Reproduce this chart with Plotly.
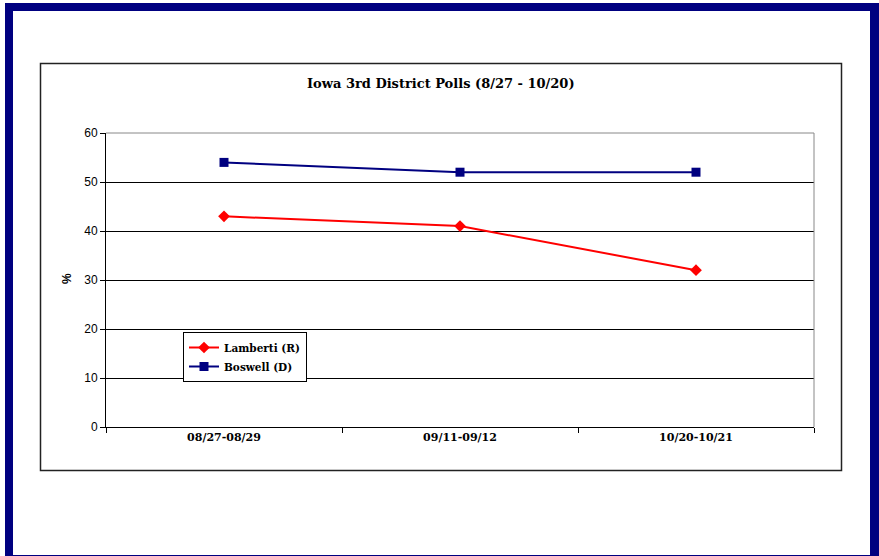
import plotly.graph_objects as go

# Poll periods and results (%)
periods = ["08/27-08/29", "09/11-09/12", "10/20-10/21"]
lamberti = [43, 41, 32]
boswell = [54, 52, 52]

W, H = 879, 556
L, R, T, B = 106, 814, 133, 427  # plot area in pixels


def px(x):
    return (x - L) / (R - L)


def py(y):
    return (B - y) / (B - T)


fig = go.Figure()
fig.add_trace(go.Scatter(
    x=periods, y=lamberti, name="<b>Lamberti (R)</b>", mode="lines+markers",
    line=dict(color="#FF0000", width=2),
    marker=dict(symbol="diamond", size=9, color="#FF0000"),
))
fig.add_trace(go.Scatter(
    x=periods, y=boswell, name="<b>Boswell (D)</b>", mode="lines+markers",
    line=dict(color="#000080", width=2),
    marker=dict(symbol="square", size=9, color="#000080"),
))

navy = "#000080"
shapes = [
    # outer navy frame
    dict(type="rect", xref="paper", yref="paper", x0=px(5), x1=px(879), y0=py(3), y1=py(11),
         fillcolor=navy, line=dict(width=0), layer="below"),
    dict(type="rect", xref="paper", yref="paper", x0=px(5), x1=px(13), y0=py(3), y1=py(560),
         fillcolor=navy, line=dict(width=0), layer="below"),
    dict(type="rect", xref="paper", yref="paper", x0=px(870), x1=px(879), y0=py(3), y1=py(560),
         fillcolor=navy, line=dict(width=0), layer="below"),
    dict(type="rect", xref="paper", yref="paper", x0=px(5), x1=px(879), y0=py(555), y1=py(560),
         fillcolor=navy, line=dict(width=0), layer="below"),
    # chart area box
    dict(type="rect", xref="paper", yref="paper", x0=px(40.5), x1=px(841.5), y0=py(63.5), y1=py(470.5),
         line=dict(color="#222222", width=1.5), layer="below"),
    # plot area border (top and right)
    dict(type="line", xref="paper", yref="paper", x0=0, x1=1, y0=1, y1=1,
         line=dict(color="#888888", width=1), layer="above"),
    dict(type="line", xref="paper", yref="paper", x0=1, x1=1, y0=0, y1=1,
         line=dict(color="#888888", width=1), layer="above"),
]

fig.update_layout(
    width=W, height=H,
    margin=dict(l=L, r=W - R, t=T, b=H - B),
    paper_bgcolor="white", plot_bgcolor="white",
    shapes=shapes,
    showlegend=True,
    legend=dict(
        x=px(183), y=py(332), xanchor="left", yanchor="top",
        bordercolor="#000000", borderwidth=1, bgcolor="white",
        font=dict(family="DejaVu Serif", size=10.5, color="#000000"),
        tracegroupgap=0, itemwidth=30,
    ),
    annotations=[
        dict(text="<b>Iowa 3rd District Polls (8/27 - 10/20)</b>", xref="paper", yref="paper",
             x=px(441), y=py(84), xanchor="center", yanchor="middle", showarrow=False,
             font=dict(family="DejaVu Serif", size=13, color="#000000")),
        dict(text="<b>%</b>", xref="paper", yref="paper", x=px(67), y=py(279),
             xanchor="center", yanchor="middle", showarrow=False, textangle=-90,
             font=dict(family="Liberation Sans", size=12, color="#000000")),
    ],
    xaxis=dict(
        type="category", showgrid=False, showline=True, linecolor="#000000", linewidth=1,
        ticks="outside", tickson="boundaries", ticklen=5, tickcolor="#000000",
        tickfont=dict(family="DejaVu Serif", size=11, color="#000000", weight="bold"),
        range=[-0.5, 2.5],
    ),
    yaxis=dict(
        range=[0, 60], dtick=10, showgrid=True, gridcolor="#000000", gridwidth=1,
        showline=True, linecolor="#000000", linewidth=1, zeroline=False,
        ticks="outside", ticklen=5, tickcolor="#000000",
        tickfont=dict(family="Liberation Sans", size=12, color="#000000"),
    ),
)

fig.write_html("out.html")
